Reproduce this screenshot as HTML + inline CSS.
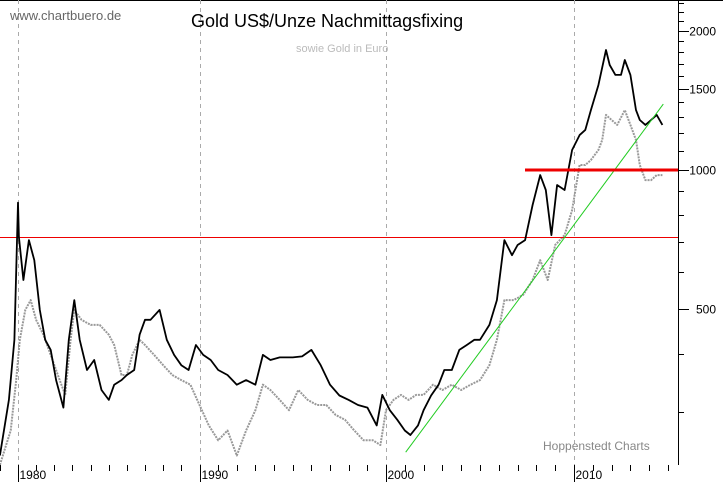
<!DOCTYPE html>
<html><head><meta charset="utf-8">
<style>
html,body{margin:0;padding:0;background:#fff;}
svg{display:block;font-family:"Liberation Sans",sans-serif;}
</style></head>
<body>
<svg id="chart" width="723" height="482" viewBox="0 0 723 482" xmlns="http://www.w3.org/2000/svg">
  <rect x="0" y="0" width="723" height="482" fill="#fff"/>
  <line x1="0" y1="0.5" x2="723" y2="0.5" stroke="#000"/>
  <g id="grid"></g>
  <g id="axes"></g>
  <g id="series"></g>
  <text x="10" y="20" font-size="13" fill="#666">www.chartbuero.de</text>
  <text x="191" y="27" font-size="18" fill="#000">Gold US$/Unze Nachmittagsfixing</text>
  <text x="296" y="52" font-size="11" fill="#bbb">sowie Gold in Euro</text>
  <text x="543" y="450" font-size="12" fill="#888">Hoppenstedt Charts</text>
</svg>
<script>
const usdYears = [1979.0,1979.5,1979.8,1980.0,1980.05,1980.3,1980.6,1980.9,1981.2,1981.5,1981.8,1982.1,1982.5,1982.8,1983.1,1983.4,1983.8,1984.2,1984.6,1985.0,1985.3,1985.7,1986.0,1986.4,1986.7,1987.0,1987.3,1987.8,1988.2,1988.6,1989.0,1989.4,1989.8,1990.2,1990.6,1991.0,1991.5,1992.0,1992.5,1993.0,1993.4,1993.8,1994.3,1995.0,1995.5,1996.0,1996.5,1997.0,1997.5,1998.0,1998.5,1999.0,1999.5,1999.8,2000.2,2000.6,2001.0,2001.3,2001.7,2002.0,2002.4,2002.8,2003.1,2003.5,2003.9,2004.3,2004.7,2005.0,2005.5,2005.9,2006.3,2006.7,2007.0,2007.4,2007.8,2008.2,2008.5,2008.8,2009.1,2009.5,2009.9,2010.3,2010.6,2010.9,2011.3,2011.7,2011.9,2012.2,2012.5,2012.7,2013.0,2013.3,2013.5,2013.8,2014.1,2014.4,2014.7];
const usdValues = [241,318,429,850,716,578,705,638,498,429,408,351,306,429,523,429,369,388,334,318,343,351,360,369,440,474,474,498,429,398,378,369,418,398,388,369,360,343,351,343,398,388,393,393,395,408,378,343,325,318,310,306,280,326,302,288,273,267,280,302,325,343,369,369,408,418,429,429,462,523,705,654,688,705,840,975,905,723,928,905,1105,1190,1221,1348,1527,1819,1688,1606,1606,1730,1606,1348,1283,1252,1283,1316,1252];
const eurYears = [1979.0,1979.6,1979.9,1980.1,1980.4,1980.7,1981.0,1981.4,1981.9,1982.3,1982.6,1982.9,1983.1,1983.5,1984.0,1984.5,1985.0,1985.3,1985.7,1986.0,1986.3,1986.7,1987.0,1987.5,1988.0,1988.5,1989.0,1989.5,1990.0,1990.5,1991.0,1991.5,1992.0,1992.5,1993.0,1993.4,1993.8,1994.3,1994.8,1995.3,1995.8,1996.3,1996.8,1997.3,1997.8,1998.3,1998.8,1999.3,1999.7,2000.0,2000.4,2000.8,2001.2,2001.6,2002.0,2002.5,2003.0,2003.5,2004.0,2004.5,2005.0,2005.5,2005.9,2006.3,2006.8,2007.3,2007.8,2008.2,2008.6,2009.0,2009.5,2009.9,2010.3,2010.6,2010.9,2011.3,2011.5,2011.7,2012.0,2012.3,2012.7,2013.0,2013.3,2013.5,2013.8,2014.1,2014.4,2014.7];
const eurValues = [230,273,351,429,498,523,474,440,388,351,326,429,498,474,462,462,440,418,360,360,398,429,418,398,378,360,351,343,310,280,260,273,241,273,302,343,334,318,302,334,318,310,310,295,288,273,260,260,254,302,318,326,318,326,326,343,334,343,334,343,351,378,429,523,523,537,578,638,578,688,723,819,1025,1025,1051,1105,1161,1316,1283,1252,1348,1252,1161,1025,951,951,975,975];
const trendYears = [2001.05,2014.75];
const trendValues = [245,1389];
const resistanceLevel = 1000;
const supportLevel = 716;
const axisLabels = [500,1000,1500,2000];
const decadeLabels = [1980,1990,2000,2010];

const NS = "http://www.w3.org/2000/svg";
const anchorYr = [1980,1990,2000,2010];
const anchorPx = [18,199.5,386,574];
function xOf(yr){
  let i = 0;
  if (yr >= anchorYr[2]) i = 2; else if (yr >= anchorYr[1]) i = 1;
  const k = (anchorPx[i+1]-anchorPx[i])/(anchorYr[i+1]-anchorYr[i]);
  return anchorPx[i] + (yr - anchorYr[i]) * k;
}
function yOf(v){ return 170 - 462 * Math.log10(v / 1000); }
function mk(tag, attrs, parent){
  const el = document.createElementNS(NS, tag);
  for (const k in attrs) el.setAttribute(k, attrs[k]);
  parent.appendChild(el);
  return el;
}
const grid = document.getElementById('grid');
const axes = document.getElementById('axes');
const series = document.getElementById('series');

decadeLabels.forEach(d => {
  const x = Math.round(xOf(d)) + 0.5;
  const g = mk('line', {x1:x, y1:0, x2:x, y2:465, stroke:'#aaa', 'stroke-dasharray':'4,4'}, grid);
  
  
});
for (let yr = 1979; yr <= 2015; yr++) {
  const x = Math.round(xOf(yr)) + 0.5;
  if (x > 678) break;
  const isDec = decadeLabels.indexOf(yr) >= 0;
  const t = mk('line', {x1:x, y1:465, x2:x, y2:isDec ? 482 : 471, stroke:'#000'}, axes);
  
  
  if (isDec) {
    const lb = mk('text', {x:x + 1, y:479, 'font-size':12, fill:'#000'}, axes);
    lb.textContent = String(yr);
    
    
  }
}
const ax = mk('line', {x1:678.5, y1:0, x2:678.5, y2:465, stroke:'#000'}, axes);


for (let v = 300; v <= 2300; v += 100) {
  const y = Math.round(yOf(v)) + 0.5;
  const major = axisLabels.indexOf(v) >= 0;
  const t = mk('line', {x1:678, y1:y, x2:major ? 689 : 684, y2:y, stroke:'#000'}, axes);
  
  
  if (major) {
    const lb = mk('text', {x:716, y:y + 4, 'font-size':12, fill:'#000', 'text-anchor':'end'}, axes);
    lb.textContent = String(v);
    
    
  }
}
function pathOf(xs, vs){
  return xs.map((yr, i) => (i ? 'L' : 'M') + xOf(yr).toFixed(1) + ',' + yOf(vs[i]).toFixed(1)).join(' ');
}
const eur = mk('path', {d:pathOf(eurYears, eurValues), fill:'none', stroke:'#999', 'stroke-width':2, 'stroke-dasharray':'2,1', 'stroke-linejoin':'round'}, series);


const sy = Math.round(yOf(supportLevel)) + 0.5;
const sup = mk('line', {x1:0, y1:sy, x2:678, y2:sy, stroke:'#e00', 'stroke-width':1}, series);


const usd = mk('path', {d:pathOf(usdYears, usdValues), fill:'none', stroke:'#000', 'stroke-width':1.8, 'stroke-linejoin':'round'}, series);


const tr = mk('path', {d:pathOf(trendYears, trendValues), fill:'none', stroke:'#2c2', 'stroke-width':1}, series);


const res = mk('line', {x1:525, y1:yOf(resistanceLevel), x2:678, y2:yOf(resistanceLevel), stroke:'#e00', 'stroke-width':3}, series);


</script>
</body></html>
